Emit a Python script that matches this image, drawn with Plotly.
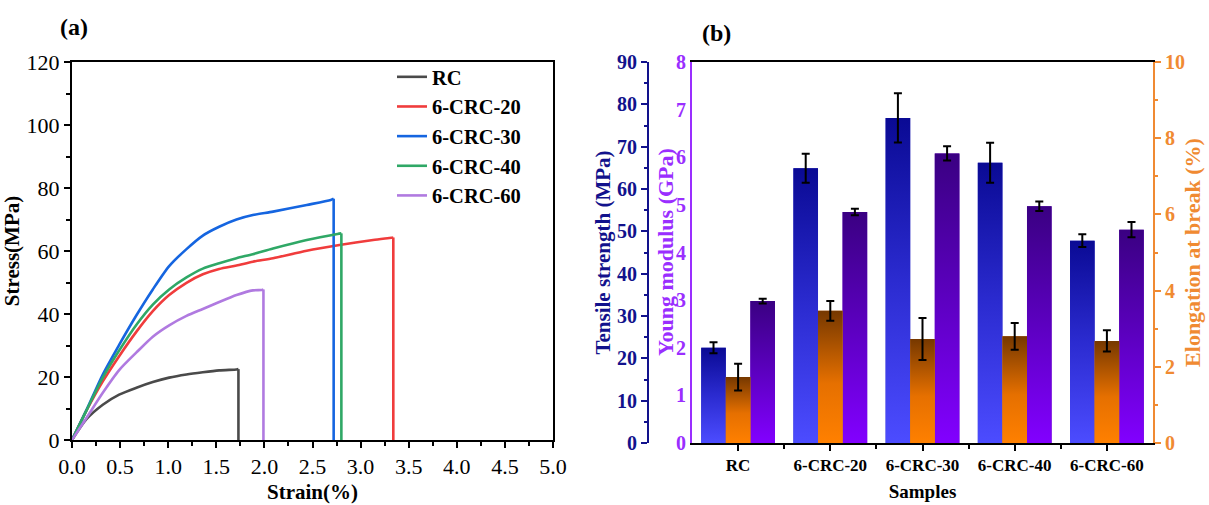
import plotly.graph_objects as go

# ---------------- data: panel (a) stress-strain curves ----------------
strain_rc = [0, 0.15, 0.32, 0.49, 0.67, 0.84, 1.01, 1.19, 1.36, 1.53, 1.71, 1.73, 1.73]
stress_rc = [0, 6.6, 11.2, 14.4, 16.6, 18.4, 19.8, 20.8, 21.5, 22.1, 22.4, 22.5, 0]

strain_20 = [0, 0.15, 0.32, 0.49, 0.67, 0.84, 1.01, 1.19, 1.36, 1.53, 1.71, 1.88, 2.09, 2.44, 2.78, 3.13, 3.32, 3.34, 3.34]
stress_20 = [0, 9.3, 18.6, 26.6, 34.4, 40.9, 46.0, 49.9, 52.6, 54.3, 55.4, 56.6, 57.7, 60.1, 61.9, 63.5, 64.2, 64.3, 0]

strain_30 = [0, 0.15, 0.32, 0.49, 0.67, 0.84, 1.01, 1.19, 1.36, 1.53, 1.71, 1.88, 2.09, 2.44, 2.69, 2.72, 2.72]
stress_30 = [0, 9.5, 20.8, 30.2, 39.6, 47.8, 55.2, 60.6, 64.9, 67.7, 70.0, 71.4, 72.5, 74.6, 76.2, 76.6, 0]

strain_40 = [0, 0.15, 0.32, 0.49, 0.67, 0.84, 1.01, 1.19, 1.36, 1.53, 1.71, 1.88, 2.09, 2.44, 2.76, 2.80, 2.80]
stress_40 = [0, 9.4, 19.8, 28.4, 36.6, 43.0, 47.8, 51.6, 54.4, 56.1, 57.7, 59.0, 60.8, 63.5, 65.4, 65.6, 0]

strain_60 = [0, 0.15, 0.32, 0.49, 0.67, 0.84, 1.01, 1.19, 1.36, 1.53, 1.71, 1.88, 1.97, 1.99, 1.99]
stress_60 = [0, 7.0, 15.0, 22.2, 27.8, 32.8, 36.4, 39.4, 41.6, 43.8, 46.0, 47.5, 47.6, 47.8, 0]

curve_names = ["RC", "6-CRC-20", "6-CRC-30", "6-CRC-40", "6-CRC-60"]

# ---------------- data: panel (b) mechanical properties ----------------
samples = ["RC", "6-CRC-20", "6-CRC-30", "6-CRC-40", "6-CRC-60"]
tensile = [22.5, 64.9, 76.8, 66.2, 47.8]
tensile_err = [1.3, 3.4, 5.8, 4.7, 1.5]
modulus = [2.98, 4.85, 6.08, 4.97, 4.48]
modulus_err = [0.05, 0.07, 0.15, 0.10, 0.16]
elongation = [1.73, 3.47, 2.73, 2.80, 2.68]
elongation_err = [0.35, 0.26, 0.55, 0.35, 0.28]

# ---------------- layout helpers ----------------
W, H = 1209, 505
def px(x):
    return x / W
def py(y):
    return 1 - y / H

FONT = "Liberation Serif"
NAVY = "#12128c"
PURPLE = "#9a2eff"
ORANGE = "#f08a32"

fig = go.Figure()

curve_colors = ["#4a4a4a", "#f03c3c", "#1565e0", "#2fa866", "#b07ae0"]
curves = [(strain_rc, stress_rc), (strain_20, stress_20), (strain_30, stress_30),
          (strain_40, stress_40), (strain_60, stress_60)]
for name, (xs, ys), c in zip(curve_names, curves, curve_colors):
    # loading part (smooth) and the vertical drop at fracture (straight)
    fig.add_trace(go.Scatter(x=xs[:-1], y=ys[:-1], mode="lines", name=name, legendgroup=name,
                             line=dict(color=c, width=2.6, shape="spline", smoothing=0.7),
                             xaxis="x", yaxis="y"))
    fig.add_trace(go.Scatter(x=xs[-2:], y=ys[-2:], mode="lines", name=name, legendgroup=name,
                             showlegend=False, line=dict(color=c, width=2.6),
                             xaxis="x", yaxis="y"))

# ---------------- panel (b) bars ----------------
bw = 0.8 / 3
series = [
    (tensile, tensile_err, "y2", -0.4, "#2a2ac8", [[0, "#4c4cff"], [0.5, "#2b2bd0"], [1, "#0a0a94"]]),
    (elongation, elongation_err, "y4", -0.4 + bw, "#c06010", [[0, "#ff8000"], [0.45, "#e67000"], [1, "#763800"]]),
    (modulus, modulus_err, "y3", -0.4 + 2 * bw, "#5a00b8", [[0, "#8200ff"], [0.5, "#5c00c0"], [1, "#3a0082"]]),
]
idx = list(range(len(samples)))
for vals, errs, yax, off, mid, cs in series:
    fig.add_trace(go.Bar(x=idx, y=vals, width=bw, offset=off, xaxis="x2", yaxis=yax,
                         marker=dict(color=mid, line=dict(width=0)), showlegend=False,
                         hoverinfo="skip"))
    for i, v in zip(idx, vals):
        x0, x1 = i + off, i + off + bw
        fig.add_trace(go.Scatter(x=[x0, x0, x1, x1, x0], y=[0, v, v, 0, 0], fill="toself",
                                 mode="none", fillgradient=dict(type="vertical", colorscale=cs),
                                 xaxis="x2", yaxis=yax, showlegend=False, hoverinfo="skip"))
    fig.add_trace(go.Scatter(x=[i + off + bw / 2 for i in idx], y=vals, mode="markers",
                             marker=dict(size=1, color="rgba(0,0,0,0)"),
                             error_y=dict(type="data", array=errs, color="black", thickness=2, width=4),
                             xaxis="x2", yaxis=yax, showlegend=False, hoverinfo="skip"))

tick_font = dict(family=FONT, size=22, color="black")
bold = lambda size, color="black": dict(family=FONT, size=size, color=color, weight="bold")

fig.update_layout(
    width=W, height=H, autosize=False,
    margin=dict(l=0, r=0, t=0, b=0, pad=0, autoexpand=False),
    paper_bgcolor="white", plot_bgcolor="white",
    barmode="overlay",
    font=dict(family=FONT),
    showlegend=True,
    legend=dict(x=px(392), y=py(57), xanchor="left", yanchor="top",
                font=bold(20.5), bgcolor="rgba(0,0,0,0)", itemwidth=30,
                tracegroupgap=0),
    xaxis=dict(domain=[px(72), px(553)], range=[0, 5], anchor="y", automargin=False,
               showline=True, linecolor="black", linewidth=2, mirror=True,
               ticks="outside", ticklen=6, tickwidth=2, tickcolor="black",
               tick0=0, dtick=0.5, tickformat=".1f",
               minor=dict(dtick=0.25, ticks="outside", ticklen=4, tickwidth=1.5, tickcolor="black"),
               showgrid=False, zeroline=False, tickfont=tick_font,
               title=dict(text="Strain(%)", font=bold(21), standoff=6)),
    yaxis=dict(domain=[py(440), py(62)], range=[0, 120], anchor="x", automargin=False,
               showline=True, linecolor="black", linewidth=2, mirror=True,
               ticks="outside", ticklen=6, tickwidth=2, tickcolor="black",
               tick0=0, dtick=20,
               minor=dict(dtick=10, ticks="outside", ticklen=4, tickwidth=1.5, tickcolor="black"),
               showgrid=False, zeroline=False, tickfont=tick_font,
               title=dict(text="Stress(MPa)", font=bold(21), standoff=3)),
    xaxis2=dict(domain=[px(692), px(1153)], range=[-0.5, 4.5], anchor="y2", automargin=False,
                showline=True, linecolor="black", linewidth=2, mirror=True,
                tickmode="array", tickvals=idx, ticktext=samples,
                ticks="outside", ticklen=6, tickwidth=2, tickcolor="black",
                minor=dict(tickvals=[0.5, 1.5, 2.5, 3.5], ticks="outside", ticklen=4,
                           tickwidth=1.5, tickcolor="black"),
                showgrid=False, zeroline=False, tickfont=bold(17),
                title=dict(text="Samples", font=bold(19), standoff=10)),
    yaxis2=dict(domain=[py(443), py(62)], range=[0, 90], anchor="free", position=px(648),
                side="left", showline=True, linecolor=NAVY, linewidth=2, automargin=False,
                ticks="outside", ticklen=6, tickwidth=2, tickcolor=NAVY, dtick=10,
                minor=dict(dtick=5, ticks="outside", ticklen=3, tickwidth=1.5, tickcolor=NAVY),
                showgrid=False, zeroline=False, tickfont=bold(20, NAVY),
                title=dict(text="Tensile strength (MPa)", font=bold(21, NAVY), standoff=0)),
    yaxis3=dict(overlaying="y2", anchor="x2", side="left", range=[0, 8], dtick=1,
                showline=True, linecolor=PURPLE, linewidth=2, ticks="", automargin=False,
                showgrid=False, zeroline=False, tickfont=bold(20, PURPLE)),
    yaxis4=dict(overlaying="y2", anchor="x2", side="right", range=[0, 10], dtick=2,
                showline=True, linecolor=ORANGE, linewidth=2, automargin=False,
                ticks="outside", ticklen=6, tickwidth=2, tickcolor=ORANGE,
                minor=dict(dtick=1, ticks="outside", ticklen=3, tickwidth=1.5, tickcolor=ORANGE),
                showgrid=False, zeroline=False, tickfont=bold(20, ORANGE),
                title=dict(text="Elongation at break (%)", font=bold(22, ORANGE), standoff=1)),
    annotations=[
        dict(text="(a)", x=px(74), y=py(27), xref="paper", yref="paper", showarrow=False,
             font=bold(24), xanchor="center", yanchor="middle"),
        dict(text="(b)", x=px(716), y=py(33), xref="paper", yref="paper", showarrow=False,
             font=bold(24), xanchor="center", yanchor="middle"),
        dict(text="Young modulus (GPa)", x=px(665), y=py(252), xref="paper", yref="paper",
             showarrow=False, textangle=-90, font=bold(22, PURPLE),
             xanchor="center", yanchor="middle"),
    ],
)

fig.write_html("out.html")
